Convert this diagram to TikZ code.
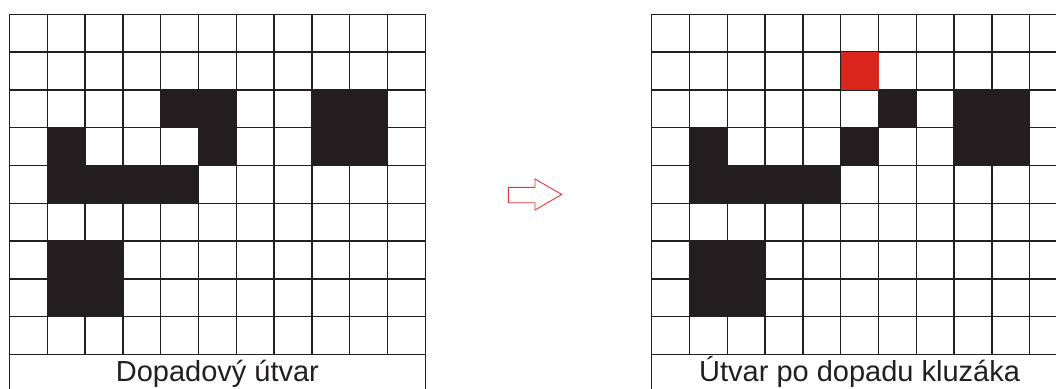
\documentclass[tikz,border=0pt]{standalone}
\usepackage{fontspec}
\setmainfont{Liberation Sans}
\definecolor{ink}{HTML}{231F20}
\definecolor{hit}{HTML}{DA251C}
\definecolor{arrowred}{HTML}{E3363A}
\begin{document}
\begin{tikzpicture}[x=1pt,y=-1pt,
  gridline/.style={line width=1.4pt, draw=ink},
  blackcell/.style={fill=ink},
  redcell/.style={fill=hit},
  caption/.style={anchor=base, inner sep=0pt, text=ink, font=\fontsize{29}{34}\selectfont},
  outlinearrow/.style={draw=arrowred, line width=0.9pt, line join=miter}]
\useasboundingbox (0,0) rectangle (1056,388);
\clip (0,0) rectangle (1056,388);
\def\cw{37.8}
% left grid
\begin{scope}[shift={(9.5,14.3)}]
  \foreach \i in {1,...,10} \draw[gridline] (\i*\cw,0) -- (\i*\cw,9*\cw);
  \foreach \i in {0,11} \draw[gridline] (\i*\cw,0) -- (\i*\cw,420);
  \foreach \j in {0,...,9} \draw[gridline] (0,\j*\cw) -- (11*\cw,\j*\cw);
  \foreach \c/\r in {4/2,5/2,8/2,9/2,1/3,5/3,8/3,9/3,1/4,2/4,3/4,4/4,1/6,2/6,1/7,2/7}
    \fill[blackcell] (\c*\cw,\r*\cw) rectangle ++(\cw,\cw);
  \node[caption] (capL) at (5.5*\cw,367.4) {Dopadový útvar};
\end{scope}
% right grid
\begin{scope}[shift={(651.7,14.3)}]
  \foreach \i in {1,...,10} \draw[gridline] (\i*\cw,0) -- (\i*\cw,9*\cw);
  \foreach \i in {0,11} \draw[gridline] (\i*\cw,0) -- (\i*\cw,420);
  \foreach \j in {0,...,9} \draw[gridline] (0,\j*\cw) -- (11*\cw,\j*\cw);
  \foreach \c/\r in {6/2,8/2,9/2,1/3,5/3,8/3,9/3,1/4,2/4,3/4,4/4,1/6,2/6,1/7,2/7}
    \fill[blackcell] (\c*\cw,\r*\cw) rectangle ++(\cw,\cw);
  \fill[redcell] (5*\cw,1*\cw) rectangle ++(\cw,\cw);
  \node[caption] (capR) at (5.5*\cw,367.4) {Útvar po dopadu kluzáka};
\end{scope}
% arrow
\draw[outlinearrow] (508.3,187.3) -- (535,187.3) -- (535,179) -- (561.7,194.4)
  -- (535,210) -- (535,202.7) -- (508.3,202.7) -- cycle;
\end{tikzpicture}
\end{document}
